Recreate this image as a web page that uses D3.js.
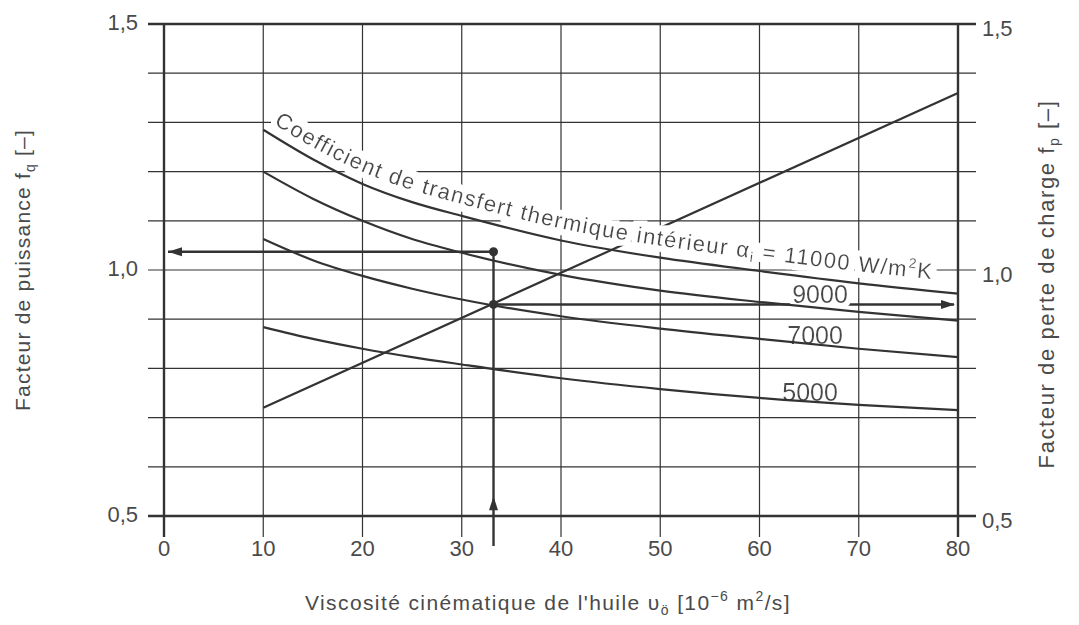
<!DOCTYPE html>
<html lang="fr">
<head>
<meta charset="UTF-8">
<title>Facteur de puissance / perte de charge</title>
<script src="https://d3js.org/d3.v7.min.js"></script>
<style>
  body { margin: 0; background: #fff; }
  text { font-family: "Liberation Sans", Arial, Helvetica, sans-serif; fill: #4a4a4a; }
</style>
</head>
<body>
<script>
// viscosity of the oil [1e-6 m2/s]
const visc = [10, 15, 20, 25, 30, 40, 50, 60, 70, 80];
// power factor fq for each inner heat transfer coefficient
const fq11000 = [1.285, 1.225, 1.175, 1.138, 1.11, 1.06, 1.025, 0.998, 0.973, 0.952];
const fq9000  = [1.20, 1.145, 1.10, 1.063, 1.035, 0.99, 0.958, 0.935, 0.915, 0.897];
const fq7000  = [1.063, 1.02, 0.988, 0.962, 0.94, 0.906, 0.881, 0.86, 0.84, 0.823];
const fq5000  = [0.884, 0.86, 0.84, 0.823, 0.808, 0.78, 0.758, 0.74, 0.726, 0.715];
// pressure drop factor fp (straight line)
const fpVisc = [10, 80];
const fpVals = [0.72, 1.36];
// reading example
const readVisc = 33.2, readFq = 1.037, readFp = 0.93;

const xTicks = [0, 10, 20, 30, 40, 50, 60, 70, 80];
const yGrid = [0.5, 0.6, 0.7, 0.8, 0.9, 1.0, 1.1, 1.2, 1.3, 1.4, 1.5];
const yLabels = [0.5, 1.0, 1.5];

const W = 1079, H = 625;
const x = d3.scaleLinear().domain([0, 80]).range([164, 958]);
const y = d3.scaleLinear().domain([0.5, 1.5]).range([516, 24]);
const fmt = d3.formatLocale({ decimal: ",", thousands: " ", grouping: [3], currency: ["", ""] }).format(".1f");
const ink = "#333";

const svg = d3.select("body").append("svg").attr("width", W).attr("height", H);
const defs = svg.append("defs");

// white halo behind labels (cuts grid and lines behind them)
function haloFilter(id, r) {
  const f = defs.append("filter").attr("id", id).attr("filterUnits", "userSpaceOnUse")
      .attr("x", 0).attr("y", 0).attr("width", W).attr("height", H);
  f.append("feMorphology").attr("in", "SourceAlpha").attr("operator", "dilate").attr("radius", r).attr("result", "grow");
  f.append("feFlood").attr("flood-color", "#fff");
  f.append("feComposite").attr("in2", "grow").attr("operator", "in").attr("result", "bg");
  const m = f.append("feMerge");
  m.append("feMergeNode").attr("in", "bg");
  m.append("feMergeNode").attr("in", "SourceGraphic");
}
haloFilter("haloS", 4);
haloFilter("haloL", 6);

// grid
const grid = svg.append("g").attr("stroke", ink).attr("fill", "none");
grid.selectAll("line.h").data(yGrid).join("line")
    .attr("x1", x(0) - 16).attr("x2", x(80) + 18)
    .attr("y1", d => y(d)).attr("y2", d => y(d))
    .attr("stroke-width", d => (d === 0.5 || d === 1.5) ? 2.4 : 1.2);
grid.selectAll("line.v").data(xTicks).join("line")
    .attr("x1", d => x(d)).attr("x2", d => x(d))
    .attr("y1", y(1.5)).attr("y2", y(0.5) + 21)
    .attr("stroke-width", d => (d === 0 || d === 80) ? 2.4 : 1.2);

// tick labels
svg.append("g").selectAll("text").data(yLabels).join("text")
    .attr("x", x(0) - 26).attr("y", d => y(d) - 2).attr("dy", "0.35em")
    .attr("text-anchor", "end").attr("font-size", 22).text(fmt);
svg.append("g").selectAll("text").data(yLabels).join("text")
    .attr("x", x(80) + 24).attr("y", d => y(d) + 4).attr("dy", "0.35em")
    .attr("text-anchor", "start").attr("font-size", 22).text(fmt);
svg.append("g").selectAll("text").data(xTicks).join("text")
    .attr("x", d => x(d)).attr("y", y(0.5) + 40)
    .attr("text-anchor", "middle").attr("font-size", 22).text(d => d);

// axis titles
const lt = svg.append("text").attr("transform", `translate(30,${(y(0.5) + y(1.5)) / 2}) rotate(-90)`)
    .attr("text-anchor", "middle").attr("font-size", 21).attr("letter-spacing", 1.2);
lt.append("tspan").text("Facteur de puissance f");
lt.append("tspan").attr("font-size", 14).attr("dy", 5).text("q");
lt.append("tspan").attr("dy", -5).text("  [–]");

const rt = svg.append("text").attr("transform", `translate(1054,${(y(0.5) + y(1.5)) / 2 + 14}) rotate(-90)`)
    .attr("text-anchor", "middle").attr("font-size", 22).attr("letter-spacing", 1.6);
rt.append("tspan").text("Facteur de perte de charge f");
rt.append("tspan").attr("font-size", 14).attr("dy", 5).text("p");
rt.append("tspan").attr("dy", -5).text("   [–]");

const bt = svg.append("text").attr("x", 548).attr("y", 610).attr("text-anchor", "middle")
    .attr("font-size", 21).attr("letter-spacing", 1.4);
bt.append("tspan").text("Viscosité cinématique de l'huile υ");
bt.append("tspan").attr("font-size", 14).attr("dy", 5).text("ö");
bt.append("tspan").attr("dy", -5).text("  [10");
bt.append("tspan").attr("font-size", 14).attr("dy", -9).text("−6");
bt.append("tspan").attr("dy", 9).text(" m");
bt.append("tspan").attr("font-size", 14).attr("dy", -9).text("2");
bt.append("tspan").attr("dy", 9).text("/s]");

const line = d3.line().x(d => x(d[0])).y(d => y(d[1])).curve(d3.curveMonotoneX);
const pairs = vals => visc.map((v, i) => [v, vals[i]]);

// fp straight line
svg.append("path").datum(fpVisc.map((v, i) => [v, fpVals[i]]))
    .attr("d", line).attr("fill", "none").attr("stroke", ink).attr("stroke-width", 2.2);

// reading arrows
function arrowHead(px, py, angle) {
  svg.append("path")
     .attr("d", "M0,0 L-14,-4.5 L-14,4.5 Z")
     .attr("transform", `translate(${px},${py}) rotate(${angle})`)
     .attr("fill", ink);
}
const arrows = svg.append("g").attr("stroke", ink).attr("stroke-width", 2.4);
arrows.append("line").attr("x1", x(readVisc)).attr("x2", x(0) + 4).attr("y1", y(readFq)).attr("y2", y(readFq));
arrows.append("line").attr("x1", x(readVisc)).attr("x2", x(80) - 4).attr("y1", y(readFp)).attr("y2", y(readFp));
arrows.append("line").attr("x1", x(readVisc)).attr("x2", x(readVisc)).attr("y1", y(0.5) + 30).attr("y2", y(readFq));
arrowHead(x(0) + 4, y(readFq), 180);
arrowHead(x(80) - 3, y(readFp), 0);
arrowHead(x(readVisc), y(0.54), -90);

// curve labels
const labels = [["9000", 66.1, 0.951], ["7000", 65.6, 0.868], ["5000", 65.1, 0.752]];
svg.append("g").selectAll("text").data(labels).join("text")
    .attr("x", d => x(d[1])).attr("y", d => y(d[2])).attr("dy", "0.35em")
    .attr("text-anchor", "middle").attr("font-size", 25).attr("filter", "url(#haloS)").text(d => d[0]);

// label along the 11000 curve
const labelPath = d3.line().x(d => x(d[0])).y(d => y(d[1]) - 12).curve(d3.curveMonotoneX);
defs.append("path").attr("id", "p11000").attr("d", labelPath(pairs(fq11000)));
const tp = svg.append("text").attr("font-size", 22).attr("letter-spacing", 1.5).attr("filter", "url(#haloL)")
    .append("textPath").attr("href", "#p11000").attr("startOffset", 12);
tp.append("tspan").text("Coefficient de transfert thermique intérieur α");
tp.append("tspan").attr("font-size", 14).attr("dy", 4).text("i");
tp.append("tspan").attr("dy", -4).text(" = 11000 W/m");
tp.append("tspan").attr("font-size", 14).attr("dy", -9).text("2");
tp.append("tspan").attr("dy", 9).text("K");

// fq curves
svg.append("g").selectAll("path").data([fq11000, fq9000, fq7000, fq5000]).join("path")
    .attr("d", d => line(pairs(d))).attr("fill", "none").attr("stroke", ink).attr("stroke-width", 2.2);

// reading points
svg.append("g").selectAll("circle").data([readFq, readFp]).join("circle")
    .attr("cx", x(readVisc)).attr("cy", d => y(d)).attr("r", 4.5).attr("fill", ink);
</script>
</body>
</html>
